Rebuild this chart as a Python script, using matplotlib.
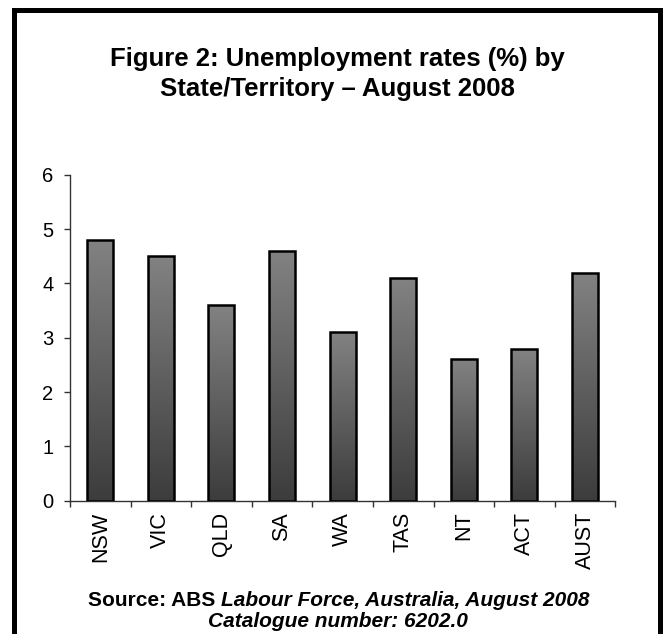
import matplotlib
matplotlib.use("Agg")
import matplotlib.pyplot as plt
import matplotlib.patches as patches
import numpy as np
from matplotlib.colors import LinearSegmentedColormap

plt.rcParams["font.family"] = ["Liberation Sans", "DejaVu Sans"]

states = ["NSW", "VIC", "QLD", "SA", "WA", "TAS", "NT", "ACT", "AUST"]
rates = [4.8, 4.5, 3.6, 4.6, 3.1, 4.1, 2.6, 2.8, 4.2]
y_ticks = [0, 1, 2, 3, 4, 5, 6]

TITLE = "Figure 2: Unemployment rates (%) by\nState/Territory \u2013 August 2008"
SOURCE_BOLD = "Source: ABS "
SOURCE_ITALIC = "Labour Force, Australia, August 2008"
SOURCE_LINE2 = "Catalogue number: 6202.0"

W, H = 665, 634
fig = plt.figure(figsize=(W / 100, H / 100), dpi=100)
ax = fig.add_axes([70 / W, 1 - 500.7 / H, 545.3 / W, 326 / H])

x = np.arange(len(states))
bars = ax.bar(x, rates, width=0.43, facecolor="none", edgecolor="black",
              linewidth=1.8, zorder=3)

# per-bar vertical gradient, lighter at the top
grey = LinearSegmentedColormap.from_list("grey", ["#3c3c3c", "#828282"])
grad = np.linspace(0, 1, 256).reshape(-1, 1)
for b in bars:
    x0, w, h = b.get_x(), b.get_width(), b.get_height()
    im = ax.imshow(grad, extent=[x0, x0 + w, 0, h], origin="lower",
                   aspect="auto", cmap=grey, zorder=2)
    im.set_clip_path(b)

ax.set_xlim(-0.5, len(states) - 0.5)
ax.set_ylim(0, 6)
ax.set_yticks(y_ticks)
ax.set_xticks(x)
ax.set_xticklabels(states, rotation=90, fontsize=15.5)
ax.set_xticks(np.arange(len(states) + 1) - 0.5, minor=True)
ax.tick_params(axis="x", which="major", length=0, pad=8)
ax.tick_params(axis="x", which="minor", length=4, width=1, color="#333333")
ax.tick_params(axis="y", length=4, width=1, color="#333333", labelsize=14.5, pad=8)

for side in ["top", "right"]:
    ax.spines[side].set_visible(False)
for side in ["left", "bottom"]:
    ax.spines[side].set_color("#333333")
    ax.spines[side].set_linewidth(1)

# title
fig.text(337 / W, 1 - 74 / H, TITLE, ha="center", va="center",
         fontsize=18.5, fontweight="bold", linespacing=1.28)

# source lines, mixed bold / bold italic
fig.canvas.draw()
r = fig.canvas.get_renderer()
t1 = fig.text(0, 1 - 606 / H, SOURCE_BOLD, fontsize=15, fontweight="bold",
              va="baseline")
t2 = fig.text(0, 1 - 606 / H, SOURCE_ITALIC, fontsize=15, fontweight="bold",
              style="italic", va="baseline")
w1 = t1.get_window_extent(r).width
w2 = t2.get_window_extent(r).width
start = 338.5 - (w1 + w2) / 2
t1.set_x(start / W)
t2.set_x((start + w1) / W)
fig.text(338 / W, 1 - 627 / H, SOURCE_LINE2, ha="center", va="baseline",
         fontsize=15, fontweight="bold", style="italic")

# outer frame (bottom edge runs off the image)
frame = patches.Rectangle((13.5 / W, -0.05), (659.5 - 13.5) / W, 1.05 - 9.5 / H,
                          transform=fig.transFigure, fill=False,
                          edgecolor="black", linewidth=3.6)
fig.patches.append(frame)

fig.savefig("out.png", dpi=100)
